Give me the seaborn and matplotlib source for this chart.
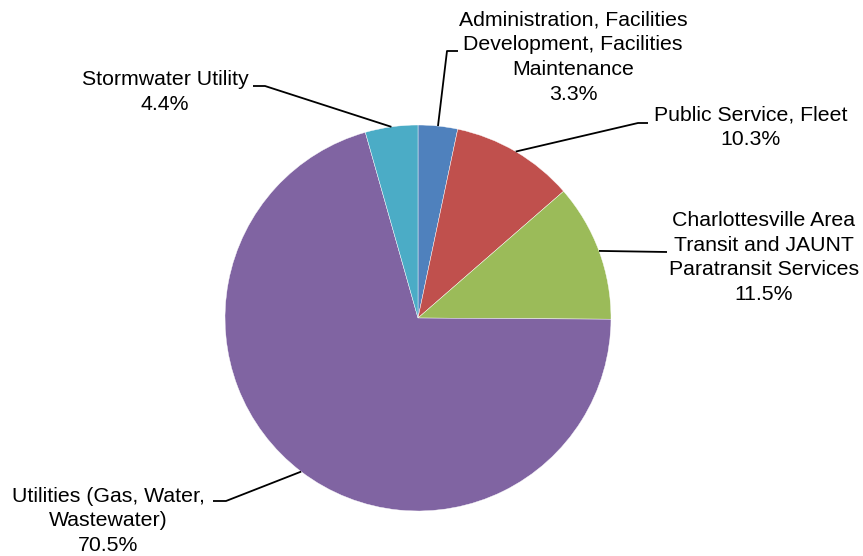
import numpy as np
import matplotlib
matplotlib.use("Agg")
import matplotlib.pyplot as plt
import seaborn as sns

# ---- data ----
categories = [
    "Administration, Facilities\nDevelopment, Facilities\nMaintenance",
    "Public Service, Fleet",
    "Charlottesville Area\nTransit and JAUNT\nParatransit Services",
    "Utilities (Gas, Water,\nWastewater)",
    "Stormwater Utility",
]
shares = [3.3, 10.3, 11.5, 70.5, 4.4]
pct_labels = ["3.3%", "10.3%", "11.5%", "70.5%", "4.4%"]
colors = ["#4F81BD", "#C0504D", "#9BBB59", "#8064A2", "#4BACC6"]

# ---- layout (pixel coords, y from top) ----
W, H = 863, 556
cx, cy, R = 418, 318, 193
# label block centre, elbow point, end of horizontal stub
label_pos = [(573, 57), (751, 127.5), (764, 257.5), (108, 521), (165, 92)]
elbows = [(447, 51), (638, 123), (667, 252), (226, 501), (265, 86)]
stubs = [(458, 51), (648, 123), (667, 252), (213, 501), (253, 86)]

sns.set_theme(style="white")
plt.rcParams["font.family"] = ["Liberation Sans", "DejaVu Sans"]

fig = plt.figure(figsize=(W / 100, H / 100), dpi=100)
ax = fig.add_axes([0, 0, 1, 1])

def fy(y):
    return H - y

wedges, _ = ax.pie(
    shares,
    colors=sns.color_palette(colors),
    startangle=90,
    counterclock=False,
    center=(cx, fy(cy)),
    radius=R,
    wedgeprops=dict(edgecolor="white", linewidth=0.3),
)

for w, lab, pct, (lx, ly), (ex, ey), (sx, sy) in zip(
    wedges, categories, pct_labels, label_pos, elbows, stubs
):
    mid = np.deg2rad((w.theta1 + w.theta2) / 2)
    px = cx + R * np.cos(mid)
    py = fy(cy) + R * np.sin(mid)
    ax.plot([px, ex, sx], [py, fy(ey), fy(sy)], color="black", lw=1.3,
            solid_capstyle="butt", zorder=3)
    ax.text(lx, fy(ly), lab + "\n" + pct, ha="center", va="center",
            fontsize=15.3, linespacing=1.38, color="black")

ax.set_xlim(0, W)
ax.set_ylim(0, H)
ax.set_aspect("equal")
ax.axis("off")
fig.savefig("out.png", dpi=100, facecolor="white")
